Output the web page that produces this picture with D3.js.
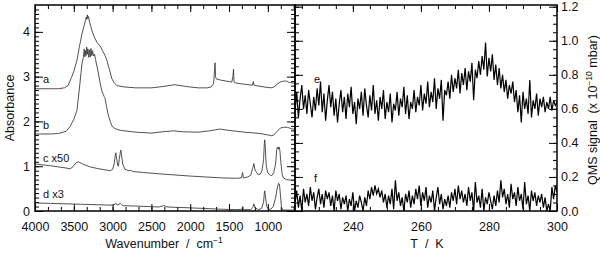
<!DOCTYPE html>
<html>
<head>
<meta charset="utf-8">
<script src="https://cdn.jsdelivr.net/npm/d3@7"></script>
<style>
body { margin: 0; background: #fff; }
svg text { font-family: "Liberation Sans", Arial, sans-serif; fill: #111; }
</style>
</head>
<body>
<svg id="main" width="600" height="253"></svg>
<script>
// IR spectra as plotted (with offsets), [wavenumber, absorbance]
var specA = [[4000,2.73],[3800,2.73],[3700,2.73],[3620,2.75],[3575,2.8],[3530,2.98],[3500,3.12],[3460,3.36],[3430,3.65],[3395,3.96],[3370,4.12],[3350,4.25],[3340,4.33],[3332,4.28],[3325,4.38],[3318,4.3],[3310,4.34],[3300,4.24],[3285,4.15],[3265,4.02],[3240,3.9],[3200,3.76],[3160,3.68],[3130,3.58],[3100,3.48],[3073,3.36],[3040,3.15],[3009,2.95],[2975,2.85],[2945,2.8],[2850,2.77],[2700,2.75],[2500,2.75],[2350,2.78],[2200,2.82],[2050,2.78],[1900,2.75],[1780,2.75],[1730,2.77],[1700,2.84],[1690,3.05],[1680,3.31],[1674,3.0],[1665,2.95],[1600,2.92],[1500,2.89],[1465,2.88],[1450,3.0],[1442,3.17],[1436,2.88],[1420,2.86],[1300,2.83],[1200,2.81],[1186,2.89],[1180,2.81],[1150,2.8],[1050,2.77],[960,2.75],[920,2.77],[880,2.83],[840,2.88],[800,2.9],[760,2.9],[720,2.87],[650,2.85]];
var specB = [[4000,1.72],[3800,1.72],[3700,1.73],[3600,1.78],[3550,1.88],[3500,2.05],[3460,2.24],[3430,2.7],[3395,3.29],[3375,3.45],[3366,3.62],[3358,3.44],[3350,3.58],[3342,3.47],[3334,3.66],[3326,3.5],[3318,3.62],[3308,3.43],[3298,3.6],[3288,3.44],[3278,3.63],[3268,3.47],[3258,3.58],[3246,3.46],[3232,3.5],[3220,3.38],[3189,3.13],[3160,2.85],[3138,2.68],[3110,2.56],[3099,2.53],[3080,2.35],[3060,2.17],[3030,2.0],[3009,1.9],[2970,1.84],[2900,1.8],[2700,1.76],[2500,1.74],[2350,1.77],[2220,1.79],[2100,1.77],[1900,1.76],[1750,1.79],[1620,1.83],[1500,1.8],[1300,1.76],[1100,1.73],[1000,1.7],[950,1.68],[920,1.7],[880,1.78],[840,1.85],[800,1.87],[750,1.87],[700,1.84],[650,1.82]];
var specC = [[4000,1.05],[3800,1.01],[3600,0.96],[3550,0.94],[3510,0.99],[3470,1.08],[3440,1.1],[3400,1.06],[3300,0.99],[3200,0.95],[3100,0.92],[3030,0.9],[3000,0.93],[2980,1.05],[2965,1.25],[2958,1.3],[2950,1.2],[2935,1.02],[2925,1.0],[2915,1.15],[2900,1.32],[2893,1.36],[2885,1.25],[2870,1.05],[2840,0.93],[2790,0.9],[2765,0.91],[2740,0.88],[2600,0.86],[2400,0.83],[2000,0.78],[1600,0.74],[1400,0.73],[1340,0.74],[1325,0.86],[1315,0.74],[1260,0.76],[1220,0.8],[1195,0.95],[1180,1.06],[1165,0.92],[1130,0.82],[1100,0.82],[1075,0.9],[1055,1.15],[1045,1.5],[1040,1.59],[1034,1.45],[1020,1.0],[1000,0.85],[970,0.8],[950,0.79],[925,0.85],[900,1.05],[885,1.38],[875,1.43],[865,1.38],[855,1.43],[845,1.35],[830,1.05],[815,0.82],[800,0.74],[760,0.7],[700,0.69],[650,0.68]];
var specD = [[4000,0.18],[3800,0.17],[3600,0.16],[3400,0.15],[3200,0.14],[3000,0.13],[2965,0.16],[2955,0.17],[2940,0.13],[2900,0.17],[2890,0.15],[2870,0.12],[2700,0.11],[2400,0.09],[2340,0.12],[2320,0.11],[2300,0.09],[2000,0.07],[1600,0.04],[1400,0.03],[1330,0.04],[1322,0.1],[1314,0.03],[1220,0.03],[1195,0.08],[1180,0.16],[1165,0.07],[1120,0.03],[1080,0.06],[1055,0.2],[1045,0.4],[1040,0.45],[1033,0.35],[1015,0.1],[990,0.04],[960,0.04],[930,0.1],[900,0.3],[880,0.5],[862,0.62],[850,0.6],[840,0.4],[825,0.1],[810,0.02],[780,0.02],[700,0.02],[650,0.02]];
var specLabels = [["a", 2.86], ["b", 1.83], ["c x50", 1.09], ["d x3", 0.29]];

// QMS traces, one value every 0.5 K from 223 K
var qmsT0 = 223, qmsStep = 0.5;
var qmsE = [0.58,0.70,0.55,0.66,0.74,0.60,0.68,0.57,0.71,0.63,
  0.55,0.67,0.59,0.72,0.62,0.76,0.58,0.69,0.53,0.65,
  0.74,0.61,0.70,0.56,0.66,0.52,0.63,0.71,0.58,0.67,
  0.54,0.69,0.61,0.73,0.57,0.64,0.51,0.66,0.60,0.70,
  0.56,0.72,0.62,0.55,0.68,0.59,0.74,0.57,0.65,0.53,
  0.67,0.60,0.71,0.54,0.64,0.58,0.69,0.52,0.63,0.59,
  0.70,0.56,0.66,0.61,0.73,0.57,0.68,0.54,0.64,0.60,
  0.71,0.58,0.67,0.62,0.74,0.59,0.69,0.63,0.76,0.61,
  0.70,0.64,0.78,0.60,0.72,0.66,0.77,0.53,0.71,0.68,
  0.76,0.66,0.80,0.70,0.78,0.72,0.83,0.69,0.81,0.74,
  0.84,0.71,0.82,0.76,0.87,0.65,0.83,0.78,0.88,0.80,
  0.91,0.83,0.99,0.79,0.90,0.82,0.92,0.77,0.86,0.74,
  0.84,0.72,0.80,0.70,0.77,0.66,0.74,0.69,0.76,0.64,
  0.71,0.58,0.68,0.52,0.70,0.60,0.66,0.57,0.77,0.55,
  0.65,0.60,0.69,0.56,0.66,0.61,0.67,0.58,0.64,0.60,
  0.67,0.59,0.65,0.62,0.64];
var qmsF = [0.04,0.12,0.02,0.09,0.00,0.13,0.05,0.10,0.03,0.14,
  0.06,0.11,0.01,0.08,0.13,0.04,0.10,0.02,0.12,0.07,
  0.11,0.03,0.09,0.00,0.12,0.06,0.10,0.01,0.08,0.04,
  0.09,0.00,0.07,0.03,0.11,0.00,0.06,0.02,0.09,0.05,
  0.00,0.08,0.03,0.12,0.07,0.14,0.09,0.15,0.10,0.13,
  0.08,0.12,0.05,0.10,0.02,0.09,0.04,0.13,0.01,0.18,
  0.06,0.11,0.03,0.08,0.00,0.10,0.05,0.12,0.02,0.09,
  0.04,0.13,0.07,0.15,0.03,0.11,0.06,0.14,0.02,0.09,
  0.05,0.12,0.00,0.08,0.14,0.04,0.10,0.01,0.07,0.03,
  0.09,0.02,0.11,0.06,0.13,0.04,0.15,0.07,0.12,0.05,
  0.10,0.03,0.14,0.06,0.11,0.00,0.17,0.05,0.09,0.02,
  0.13,0.00,0.08,0.04,0.11,0.06,0.01,0.09,0.03,0.12,
  0.05,0.18,0.08,0.13,0.04,0.10,0.02,0.16,0.07,0.11,
  0.03,0.14,0.06,0.10,0.01,0.17,0.04,0.09,0.00,0.12,
  0.06,0.11,0.03,0.09,0.05,0.10,0.02,0.08,0.00,0.04,
  0.00,0.14,0.07,0.15,0.11];
var qmsLabels = [["e", 0.75], ["f", 0.17]];

var wnTicks = [4000, 3500, 3000, 2500, 2000, 1500, 1000];
var absTicks = [0, 1, 2, 3, 4];
var tTicks = [240, 260, 280, 300];
var qmsTicks = [0, 0.2, 0.4, 0.6, 0.8, 1.0, 1.2];

var svg = d3.select("#main");
var L = {left: 35, right: 295, top: 5, bottom: 211};
var R = {left: 295, right: 557, top: 5, bottom: 211};

var x1 = d3.scaleLinear().domain([4000, 650]).range([L.left, L.right]);
var y1 = d3.scaleLinear().domain([0, 4.6]).range([L.bottom, L.top]);
var x2 = d3.scaleLinear().domain([223, 300]).range([R.left, R.right]);
var y2 = d3.scaleLinear().domain([0, 1.21]).range([R.bottom, R.top]);

// clip paths
var defs = svg.append("defs");
defs.append("clipPath").attr("id", "clipL").append("rect")
  .attr("x", L.left).attr("y", L.top).attr("width", L.right - L.left).attr("height", L.bottom - L.top);
defs.append("clipPath").attr("id", "clipR").append("rect")
  .attr("x", R.left).attr("y", R.top).attr("width", R.right - R.left).attr("height", R.bottom - R.top);

function addAxis(axisFn, scale, vals, size, pos, fmt, pad) {
  var ax = axisFn(scale).tickValues(vals).tickSize(size).tickSizeOuter(0);
  if (fmt) ax.tickFormat(fmt).tickPadding(pad);
  else ax.tickFormat("");
  var g = svg.append("g").attr("transform", pos).call(ax);
  g.select(".domain").remove();
  g.selectAll(".tick line").attr("stroke", "#000").attr("stroke-width", 1);
  g.selectAll("text").attr("font-size", 12.5).attr("font-family", null).attr("fill", "#111");
  return g;
}

// left panel axes
var wnMinor = d3.range(4000, 640, -500 / 3);
var absMinor = d3.range(0, 4.6, 0.1);
addAxis(d3.axisBottom, x1, wnMinor, -4, "translate(0," + L.bottom + ")");
addAxis(d3.axisBottom, x1, wnTicks, -7, "translate(0," + L.bottom + ")", d3.format("d"), 11);
addAxis(d3.axisTop, x1, wnMinor, -4, "translate(0," + L.top + ")");
addAxis(d3.axisTop, x1, wnTicks, -7, "translate(0," + L.top + ")");
addAxis(d3.axisLeft, y1, absMinor, -4, "translate(" + L.left + ",0)");
addAxis(d3.axisLeft, y1, absTicks, -8, "translate(" + L.left + ",0)", d3.format("d"), 5);
addAxis(d3.axisRight, y1, absMinor, -4, "translate(" + L.right + ",0)");
addAxis(d3.axisRight, y1, absTicks, -8, "translate(" + L.right + ",0)");

// right panel axes
var tMinor = d3.range(225, 300.1, 5);
var qmsMinor = d3.range(0, 1.21, 0.05);
addAxis(d3.axisBottom, x2, tMinor, -4, "translate(0," + R.bottom + ")");
addAxis(d3.axisBottom, x2, tTicks, -7, "translate(0," + R.bottom + ")", d3.format("d"), 11);
addAxis(d3.axisTop, x2, tMinor, -4, "translate(0," + R.top + ")");
addAxis(d3.axisTop, x2, tTicks, -7, "translate(0," + R.top + ")");
addAxis(d3.axisRight, y2, qmsMinor, -4, "translate(" + R.right + ",0)");
addAxis(d3.axisRight, y2, qmsTicks, -8, "translate(" + R.right + ",0)", d3.format(".1f"), 4)
  .selectAll("text").attr("x", 4);
addAxis(d3.axisLeft, y2, qmsMinor, -4, "translate(" + R.left + ",0)");
addAxis(d3.axisLeft, y2, qmsTicks, -8, "translate(" + R.left + ",0)");

// spectra
var irLine = d3.line().x(function(d) { return x1(d[0]); }).y(function(d) { return y1(d[1]); });
var gL = svg.append("g").attr("clip-path", "url(#clipL)");
[specA, specB, specC, specD].forEach(function(s) {
  gL.append("path").datum(s).attr("d", irLine)
    .attr("fill", "none").attr("stroke", "#333").attr("stroke-width", 0.85);
});
svg.selectAll(".specLab").data(specLabels).enter().append("text")
  .attr("x", L.left + 8).attr("y", function(d) { return y1(d[1]); })
  .attr("font-size", 11).text(function(d) { return d[0]; });

// QMS traces
var qLine = d3.line()
  .x(function(d, i) { return x2(qmsT0 + i * qmsStep); })
  .y(function(d) { return y2(d); });
var gR = svg.append("g").attr("clip-path", "url(#clipR)");
[qmsE, qmsF].forEach(function(s) {
  gR.append("path").datum(s).attr("d", qLine)
    .attr("fill", "none").attr("stroke", "#000").attr("stroke-width", 1.2);
});
svg.selectAll(".qmsLab").data(qmsLabels).enter().append("text")
  .attr("x", R.left + 19).attr("y", function(d) { return y2(d[1]); })
  .attr("font-size", 11).text(function(d) { return d[0]; });

// frames
[L, R].forEach(function(p) {
  svg.append("rect").attr("x", p.left).attr("y", p.top)
    .attr("width", p.right - p.left).attr("height", p.bottom - p.top)
    .attr("fill", "none").attr("stroke", "#000").attr("stroke-width", 1.5);
});

// axis titles
var xt = svg.append("text").attr("x", (L.left + L.right) / 2 - 1).attr("y", 248)
  .attr("text-anchor", "middle").attr("font-size", 12.5);
xt.append("tspan").text("Wavenumber\u00a0\u00a0/\u00a0\u00a0cm");
xt.append("tspan").attr("dy", -5).attr("font-size", 8.5).text("\u22121");

svg.append("text").attr("x", 427).attr("y", 248).attr("text-anchor", "middle")
  .attr("font-size", 12.5).text("T\u00a0\u00a0/\u00a0\u00a0K");

svg.append("text").attr("transform", "translate(14,108) rotate(-90)")
  .attr("text-anchor", "middle").attr("font-size", 12.5).text("Absorbance");

var yt = svg.append("text").attr("transform", "translate(597,110) rotate(-90)")
  .attr("text-anchor", "middle").attr("font-size", 12.5);
yt.append("tspan").text("QMS signal\u00a0\u00a0(x 10");
yt.append("tspan").attr("dy", -5).attr("font-size", 8.5).text("\u221210");
yt.append("tspan").attr("dy", 5).text("\u00a0mbar)");
</script>
</body>
</html>
